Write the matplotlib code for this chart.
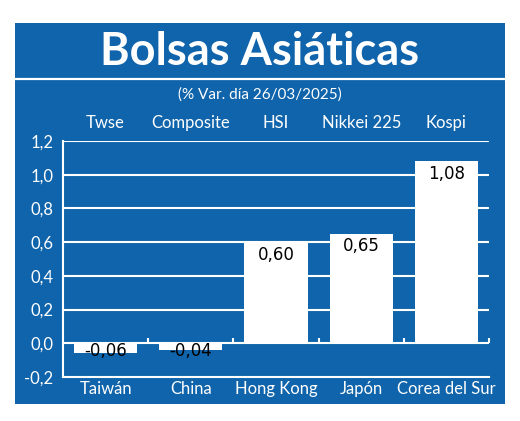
import matplotlib
matplotlib.use("Agg")
import matplotlib.pyplot as plt
from matplotlib.patches import Rectangle

# datos
paises = ["Taiwán", "China", "Hong Kong", "Japón", "Corea del Sur"]
indices = ["Twse", "Composite", "HSI", "Nikkei 225", "Kospi"]
variacion = [-0.06, -0.04, 0.60, 0.65, 1.08]
etiquetas = ["-0,06", "-0,04", "0,60", "0,65", "1,08"]
yticks = [-0.2, 0.0, 0.2, 0.4, 0.6, 0.8, 1.0, 1.2]
ytick_labels = ["-0,2", "0,0", "0,2", "0,4", "0,6", "0,8", "1,0", "1,2"]

AZUL = "#1064ab"
fuente = ["Liberation Sans Narrow", "Lato", "DejaVu Sans"]

fig = plt.figure(figsize=(5.2, 4.21), dpi=100, facecolor="white")

# panel azul de fondo
fig.patches.append(Rectangle((15 / 520, 1 - 404 / 421), 490 / 520, 381 / 421,
                             transform=fig.transFigure, facecolor=AZUL,
                             edgecolor="none", zorder=-10))
fig.lines.append(plt.Line2D([15 / 520, 505 / 520], [1 - 79 / 421, 1 - 79 / 421],
                            transform=fig.transFigure, color="white", lw=1.6,
                            zorder=-5))

fig.text(0.5, 1 - 52 / 421, "Bolsas Asiáticas", ha="center", va="center",
         color="white", fontsize=32.5, fontweight="bold", family=["Lato", "DejaVu Sans"])
fig.text(0.5, 1 - 95 / 421, "(% Var. día 26/03/2025)", ha="center", va="center",
         color="white", fontsize=11, family=fuente)

ax = fig.add_axes([63 / 520, 1 - 377 / 421, 426 / 520, 236 / 421])
ax.set_facecolor("none")
x = list(range(len(paises)))

# lineas de grilla
for v in yticks[2:]:
    ax.axhline(v, color="white", lw=1.5, zorder=1)
ax.axhline(0, color="white", lw=1.5, zorder=3)
ax.vlines([i + 0.5 for i in x], 0, 0.03, color="white", lw=1.5, zorder=3, clip_on=False)

ax.bar(x, variacion, width=0.74, color="white", zorder=2)

for i, v in enumerate(variacion):
    if v > 0:
        y = v - 0.075
    else:
        y = -0.045
    ax.text(i, y, etiquetas[i], ha="center", va="center", fontsize=12,
            color="black", zorder=4, family="DejaVu Sans")
    ax.text(i, 1.076, indices[i], ha="center", va="center", fontsize=12,
            color="white", transform=ax.get_xaxis_transform(), family=fuente)

ax.set_xlim(-0.5, 4.5)
ax.set_ylim(-0.2, 1.2)
ax.set_yticks(yticks)
ax.set_yticklabels(ytick_labels, family=fuente)
ax.set_xticks(x)
ax.set_xticklabels(paises, family=fuente)
ax.tick_params(axis="both", length=0, colors="white", labelsize=12)
ax.tick_params(axis="y", pad=7)
ax.tick_params(axis="x", pad=3)

for lado in ["top", "right"]:
    ax.spines[lado].set_visible(False)
for lado in ["left", "bottom"]:
    ax.spines[lado].set_color("white")
    ax.spines[lado].set_linewidth(1.5)

fig.savefig("out.png", dpi=100, facecolor="white")
